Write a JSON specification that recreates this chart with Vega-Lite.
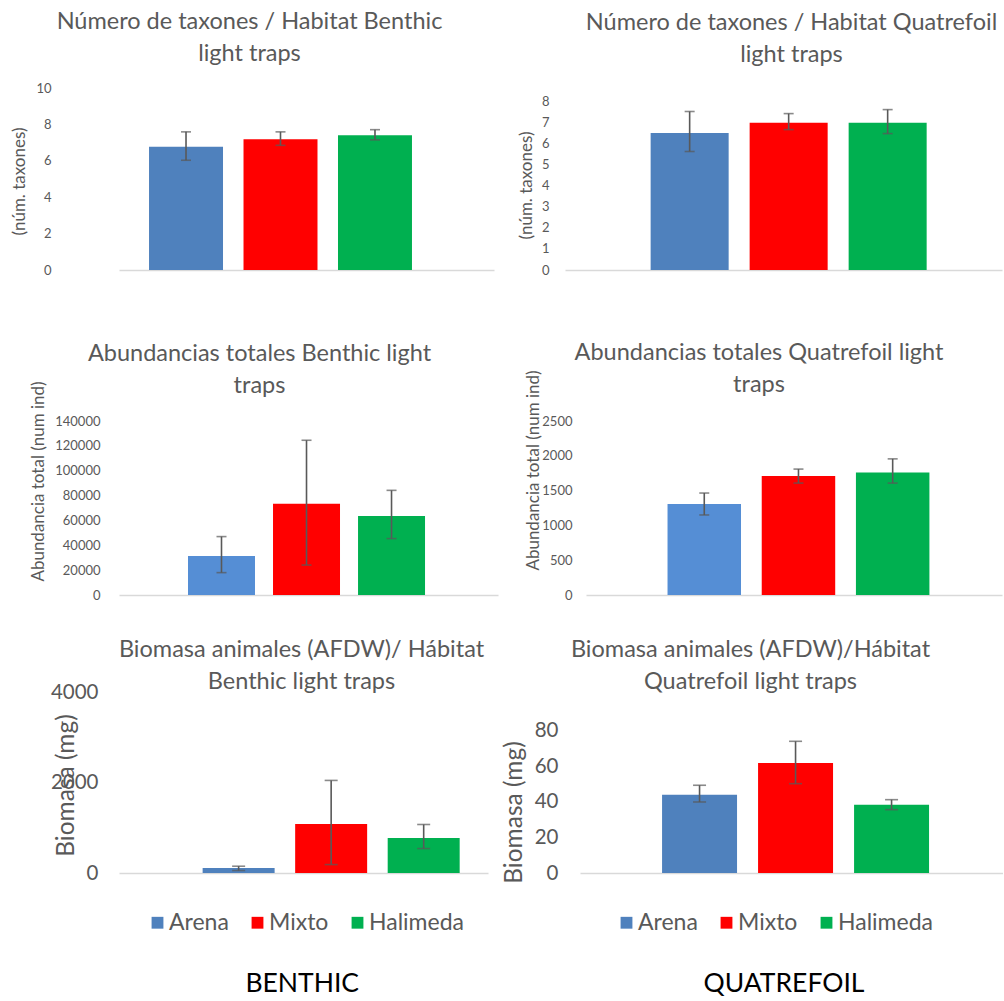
{
  "$schema": "https://vega.github.io/schema/vega-lite/v6.json",
  "padding": {"left": 10, "top": 9, "right": 0, "bottom": 0},
  "background": "white",
  "config": {
    "view": {"stroke": null},
    "font": "Lato",
    "title": {"font": "Lato", "fontSize": 23.5, "fontWeight": "normal", "color": "#595959", "lineHeight": 32, "frame": "group", "anchor": "middle"},
    "axisY": {"domain": false, "ticks": false, "grid": false, "labelOverlap": false, "labelSeparation": -60, "labelColor": "#595959", "titleColor": "#595959", "labelFont": "Lato", "titleFont": "Lato", "titleFontWeight": "normal", "titleBaseline": "middle", "titleAngle": 270},
    "axisX": {"domain": true, "domainColor": "#d9d9d9", "domainWidth": 1.5, "ticks": false, "labels": false, "grid": false},
    "legend": {"labelFont": "Lato", "labelColor": "#595959", "labelFontSize": 23, "symbolType": "square", "symbolSize": 140, "symbolStrokeWidth": 0, "columnPadding": 17, "labelOffset": 0}
  },
  "resolve": {"scale": {"color": "independent"}, "legend": {"color": "independent"}},
  "spacing": 35,
  "vconcat": [
    {
      "resolve": {"scale": {"color": "independent"}, "legend": {"color": "independent"}},
      "spacing": 64,
      "vconcat": [
        {
          "resolve": {"scale": {"color": "independent"}, "legend": {"color": "independent"}},
          "spacing": 23,
          "hconcat": [
            {
              "width": 375, "height": 182,
              "title": {"text": ["Número de taxones / Habitat Benthic", "light traps"], "dx": -57, "offset": 17},
              "data": {"values": [
                {"grupo": "Arena", "valor": 6.77, "lo": 6.03, "hi": 7.59},
                {"grupo": "Mixto", "valor": 7.18, "lo": 6.85, "hi": 7.59},
                {"grupo": "Halimeda", "valor": 7.40, "lo": 7.15, "hi": 7.71}
              ]},
              "encoding": {
                "x": {"field": "grupo", "type": "nominal", "title": null, "scale": {"domain": ["Arena", "Mixto", "Halimeda"], "paddingInner": 0.217, "paddingOuter": 0.593, "align": 0.268, "round": false}}
              },
              "resolve": {"axis": {"y": "independent"}},
              "layer": [
                {"mark": {"type": "bar"}, "encoding": {
                  "y": {"field": "valor", "type": "quantitative", "scale": {"domain": [0, 10], "nice": false}, "axis": {"title": "(núm. taxones)", "values": [0, 2, 4, 6, 8, 10], "labelOverlap": false, "labelSeparation": -60, "labelFontSize": 13, "labelPadding": 68, "titleFontSize": 17, "titleX": -100, "titleY": 93}},
                  "color": {"field": "grupo", "type": "nominal", "scale": {"domain": ["Arena", "Mixto", "Halimeda"], "range": ["#4f81bd", "#ff0000", "#00b050"]}, "legend": null}}},
                {"mark": {"type": "rule", "color": "#595959", "strokeWidth": 1.6}, "encoding": {"y": {"field": "lo", "type": "quantitative", "axis": null}, "y2": {"field": "hi"}}},
                {"mark": {"type": "tick", "color": "#595959", "thickness": 1.6, "size": 10}, "encoding": {"y": {"field": "lo", "type": "quantitative", "axis": null}}},
                {"mark": {"type": "tick", "color": "#595959", "thickness": 1.6, "size": 10}, "encoding": {"y": {"field": "hi", "type": "quantitative", "axis": null}}}
              ]
            },
            {
              "width": 437, "height": 182,
              "title": {"text": ["Número de taxones / Habitat Quatrefoil", "light traps"], "dx": 8, "offset": 22},
              "data": {"values": [
                {"grupo": "Arena", "valor": 6.51, "lo": 5.63, "hi": 7.53},
                {"grupo": "Mixto", "valor": 6.99, "lo": 6.67, "hi": 7.43},
                {"grupo": "Halimeda", "valor": 6.99, "lo": 6.48, "hi": 7.62}
              ]},
              "encoding": {
                "x": {"field": "grupo", "type": "nominal", "title": null, "scale": {"domain": ["Arena", "Mixto", "Halimeda"], "paddingInner": 0.212, "paddingOuter": 0.813, "align": 0.532, "round": false}}
              },
              "resolve": {"axis": {"y": "independent"}},
              "layer": [
                {"mark": {"type": "bar"}, "encoding": {
                  "y": {"field": "valor", "type": "quantitative", "scale": {"domain": [0, 8.646], "nice": false}, "axis": {"title": "(núm. taxones)", "values": [0, 1, 2, 3, 4, 5, 6, 7, 8], "labelOverlap": false, "labelSeparation": -60, "labelFontSize": 13, "labelPadding": 16, "titleFontSize": 17, "titleX": -39, "titleY": 97}},
                  "color": {"field": "grupo", "type": "nominal", "scale": {"domain": ["Arena", "Mixto", "Halimeda"], "range": ["#4f81bd", "#ff0000", "#00b050"]}, "legend": null}}},
                {"mark": {"type": "rule", "color": "#595959", "strokeWidth": 1.6}, "encoding": {"y": {"field": "lo", "type": "quantitative", "axis": null}, "y2": {"field": "hi"}}},
                {"mark": {"type": "tick", "color": "#595959", "thickness": 1.6, "size": 10}, "encoding": {"y": {"field": "lo", "type": "quantitative", "axis": null}}},
                {"mark": {"type": "tick", "color": "#595959", "thickness": 1.6, "size": 10}, "encoding": {"y": {"field": "hi", "type": "quantitative", "axis": null}}}
              ]
            }
          ]
        },
        {
          "resolve": {"scale": {"color": "independent"}, "legend": {"color": "independent"}},
          "spacing": 25,
          "hconcat": [
            {
              "width": 379, "height": 174,
              "title": {"text": ["Abundancias totales Benthic light", "traps"], "dx": -49, "offset": -19},
              "data": {"values": [
                {"grupo": "Arena", "valor": 31400, "lo": 18000, "hi": 47000},
                {"grupo": "Mixto", "valor": 73500, "lo": 24100, "hi": 124500},
                {"grupo": "Halimeda", "valor": 63600, "lo": 45400, "hi": 84200}
              ]},
              "encoding": {
                "x": {"field": "grupo", "type": "nominal", "title": null, "scale": {"domain": ["Arena", "Mixto", "Halimeda"], "paddingInner": 0.212, "paddingOuter": 0.835, "align": 0.486, "round": false}}
              },
              "resolve": {"axis": {"y": "independent"}},
              "layer": [
                {"mark": {"type": "bar"}, "encoding": {
                  "y": {"field": "valor", "type": "quantitative", "scale": {"domain": [0, 140000], "nice": false}, "axis": {"title": "Abundancia total  (num ind)", "values": [0, 20000, 40000, 60000, 80000, 100000, 120000, 140000], "format": "d", "labelOverlap": false, "labelSeparation": -60, "labelFontSize": 13, "labelPadding": 19, "titleFontSize": 17, "titleX": -81, "titleY": 60}},
                  "color": {"field": "grupo", "type": "nominal", "scale": {"domain": ["Arena", "Mixto", "Halimeda"], "range": ["#558ed5", "#ff0000", "#00b050"]}, "legend": null}}},
                {"mark": {"type": "rule", "color": "#595959", "strokeWidth": 1.6}, "encoding": {"y": {"field": "lo", "type": "quantitative", "axis": null}, "y2": {"field": "hi"}}},
                {"mark": {"type": "tick", "color": "#595959", "thickness": 1.6, "size": 10}, "encoding": {"y": {"field": "lo", "type": "quantitative", "axis": null}}},
                {"mark": {"type": "tick", "color": "#595959", "thickness": 1.6, "size": 10}, "encoding": {"y": {"field": "hi", "type": "quantitative", "axis": null}}}
              ]
            },
            {
              "width": 416, "height": 174,
              "title": {"text": ["Abundancias totales Quatrefoil light", "traps"], "dx": -35, "offset": -29},
              "data": {"values": [
                {"grupo": "Arena", "valor": 1308, "lo": 1150, "hi": 1465},
                {"grupo": "Mixto", "valor": 1708, "lo": 1608, "hi": 1809},
                {"grupo": "Halimeda", "valor": 1760, "lo": 1608, "hi": 1956}
              ]},
              "encoding": {
                "x": {"field": "grupo", "type": "nominal", "title": null, "scale": {"domain": ["Arena", "Mixto", "Halimeda"], "paddingInner": 0.22, "paddingOuter": 0.818, "align": 0.529, "round": false}}
              },
              "resolve": {"axis": {"y": "independent"}},
              "layer": [
                {"mark": {"type": "bar"}, "encoding": {
                  "y": {"field": "valor", "type": "quantitative", "scale": {"domain": [0, 2500], "nice": false}, "axis": {"title": "Abundancia total  (num ind)", "values": [0, 500, 1000, 1500, 2000, 2500], "format": "d", "labelOverlap": false, "labelSeparation": -60, "labelFontSize": 13, "labelPadding": 14, "titleFontSize": 17, "titleX": -53, "titleY": 49}},
                  "color": {"field": "grupo", "type": "nominal", "scale": {"domain": ["Arena", "Mixto", "Halimeda"], "range": ["#558ed5", "#ff0000", "#00b050"]}, "legend": null}}},
                {"mark": {"type": "rule", "color": "#595959", "strokeWidth": 1.6}, "encoding": {"y": {"field": "lo", "type": "quantitative", "axis": null}, "y2": {"field": "hi"}}},
                {"mark": {"type": "tick", "color": "#595959", "thickness": 1.6, "size": 10}, "encoding": {"y": {"field": "lo", "type": "quantitative", "axis": null}}},
                {"mark": {"type": "tick", "color": "#595959", "thickness": 1.6, "size": 10}, "encoding": {"y": {"field": "hi", "type": "quantitative", "axis": null}}}
              ]
            }
          ]
        }
      ]
    },
    {
      "resolve": {"scale": {"color": "independent"}, "legend": {"color": "independent"}},
      "spacing": 13,
      "hconcat": [
        {
          "title": {"text": "BENTHIC", "orient": "bottom", "fontSize": 26.5, "color": "#000000", "offset": 36, "dx": 33, "anchor": "middle", "frame": "bounds"},
          "resolve": {"scale": {"color": "independent"}, "legend": {"color": "independent"}},
          "vconcat": [
            {
              "width": 369, "height": 181,
              "title": {"text": ["Biomasa animales (AFDW)/ Hábitat", "Benthic light traps"], "dx": -2, "offset": -11},
              "data": {"values": [
                {"grupo": "Arena", "valor": 112, "lo": 55, "hi": 150},
                {"grupo": "Mixto", "valor": 1085, "lo": 186, "hi": 2046},
                {"grupo": "Halimeda", "valor": 775, "lo": 540, "hi": 1072}
              ]},
              "encoding": {
                "x": {"field": "grupo", "type": "nominal", "title": null, "scale": {"domain": ["Arena", "Mixto", "Halimeda"], "paddingInner": 0.222, "paddingOuter": 0.605, "align": 0.747, "round": false}}
              },
              "resolve": {"axis": {"y": "independent"}},
              "layer": [
                {"mark": {"type": "bar"}, "encoding": {
                  "y": {"field": "valor", "type": "quantitative", "scale": {"domain": [0, 4000], "nice": false}, "axis": {"title": "Biomasa (mg)", "values": [0, 2000, 4000], "format": "d", "labelOverlap": false, "labelSeparation": -60, "labelFontSize": 20.5, "labelPadding": 21, "titleFontSize": 24.5, "titleX": -53, "titleY": 93}},
                  "color": {"field": "grupo", "type": "nominal", "scale": {"domain": ["Arena", "Mixto", "Halimeda"], "range": ["#4f81bd", "#ff0000", "#00b050"]}, "legend": {"orient": "none", "direction": "horizontal", "title": null, "legendX": 27, "legendY": 219}}}},
                {"mark": {"type": "rule", "color": "#595959", "strokeWidth": 1.6}, "encoding": {"y": {"field": "lo", "type": "quantitative", "axis": null}, "y2": {"field": "hi"}}},
                {"mark": {"type": "tick", "color": "#595959", "thickness": 1.6, "size": 13}, "encoding": {"y": {"field": "lo", "type": "quantitative", "axis": null}}},
                {"mark": {"type": "tick", "color": "#595959", "thickness": 1.6, "size": 13}, "encoding": {"y": {"field": "hi", "type": "quantitative", "axis": null}}}
              ]
            }
          ]
        },
        {
          "title": {"text": "QUATREFOIL", "orient": "bottom", "fontSize": 26.5, "color": "#000000", "offset": 36, "dx": 32, "anchor": "middle", "frame": "bounds"},
          "resolve": {"scale": {"color": "independent"}, "legend": {"color": "independent"}},
          "vconcat": [
            {
              "width": 423, "height": 181,
              "title": {"text": ["Biomasa animales (AFDW)/Hábitat", "Quatrefoil light traps"], "dx": -41, "offset": -1},
              "data": {"values": [
                {"grupo": "Arena", "valor": 44.0, "lo": 39.9, "hi": 49.3},
                {"grupo": "Mixto", "valor": 61.8, "lo": 50.2, "hi": 74.0},
                {"grupo": "Halimeda", "valor": 38.4, "lo": 35.6, "hi": 41.2}
              ]},
              "encoding": {
                "x": {"field": "grupo", "type": "nominal", "title": null, "scale": {"domain": ["Arena", "Mixto", "Halimeda"], "paddingInner": 0.219, "paddingOuter": 0.8125, "align": 0.526, "round": false}}
              },
              "resolve": {"axis": {"y": "independent"}},
              "layer": [
                {"mark": {"type": "bar"}, "encoding": {
                  "y": {"field": "valor", "type": "quantitative", "scale": {"domain": [0, 101.7], "nice": false}, "axis": {"title": "Biomasa (mg)", "values": [0, 20, 40, 60, 80], "labelOverlap": false, "labelSeparation": -60, "labelFontSize": 20.5, "labelPadding": 22, "titleFontSize": 24.5, "titleX": -66, "titleY": 120}},
                  "color": {"field": "grupo", "type": "nominal", "scale": {"domain": ["Arena", "Mixto", "Halimeda"], "range": ["#4f81bd", "#ff0000", "#00b050"]}, "legend": {"orient": "none", "direction": "horizontal", "title": null, "legendX": 35, "legendY": 219}}}},
                {"mark": {"type": "rule", "color": "#595959", "strokeWidth": 1.6}, "encoding": {"y": {"field": "lo", "type": "quantitative", "axis": null}, "y2": {"field": "hi"}}},
                {"mark": {"type": "tick", "color": "#595959", "thickness": 1.6, "size": 13}, "encoding": {"y": {"field": "lo", "type": "quantitative", "axis": null}}},
                {"mark": {"type": "tick", "color": "#595959", "thickness": 1.6, "size": 13}, "encoding": {"y": {"field": "hi", "type": "quantitative", "axis": null}}}
              ]
            }
          ]
        }
      ]
    }
  ]
}
